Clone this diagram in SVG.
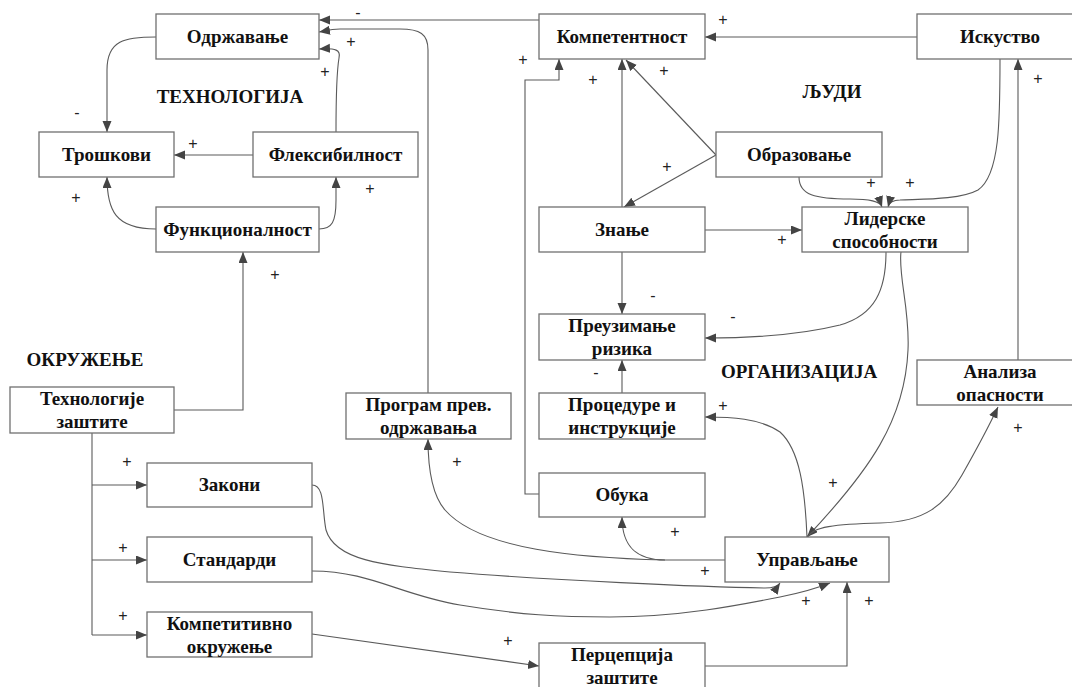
<svg xmlns="http://www.w3.org/2000/svg" width="1072" height="687" viewBox="0 0 1072 687">
<defs>
<marker id="ah" markerUnits="userSpaceOnUse" markerWidth="12" markerHeight="10" refX="11" refY="4.5" orient="auto">
<path d="M0,0 L11,4.5 L0,9 z" fill="#444"/>
</marker>
<style>
.box{fill:#fff;stroke:#707070;stroke-width:1.3}
.t{font-family:"Liberation Serif","Times New Roman",serif;font-weight:bold;font-size:19px;fill:#111;text-anchor:middle}
.sec{font-family:"Liberation Serif","Times New Roman",serif;font-weight:bold;font-size:19px;fill:#111;text-anchor:middle}
.c path{fill:none;stroke:#5a5a5a;stroke-width:1.1}
.c .a{marker-end:url(#ah)}
.l{font-family:"Liberation Sans",Arial,sans-serif;font-size:16px;fill:#222;text-anchor:middle}
</style>
</defs>
<rect width="1072" height="687" fill="#fff"/>

<g id="connectors" class="c">
<path class="a" d="M539,20 H319"/>
<path class="a" d="M428,393 V50 C428,34 420,29 400,29 L340,29 C330,29 325,31 319,32"/>
<path class="a" d="M336,132 C336,100 337,70 339,58 C341,50 336,48 319,49"/>
<path class="a" d="M156,37 C125,37 107,40 107,70 V132"/>
<path class="a" d="M253,155 H174"/>
<path class="a" d="M156,229 C115,229 107,210 107,177"/>
<path class="a" d="M319,229 C332,229 336,222 336,200 V177"/>
<path class="a" d="M174,410 H243 V252"/>
<path d="M92,433 V635"/>
<path class="a" d="M92,485 H147"/>
<path class="a" d="M92,560 H147"/>
<path class="a" d="M92,635 H147"/>
<path class="a" d="M539,494 H525 V80 H559 V59"/>
<path class="a" d="M622,207 V59"/>
<path class="a" d="M716,155 L626,60"/>
<path class="a" d="M716,155 L624,207"/>
<path class="a" d="M917,37 H705"/>
<path class="a" d="M1000,59 C1000,120 1000,175 978,190 C960,200 920,199 900,200 C893,200 889,203 888,207"/>
<path class="a" d="M799,177 C799,195 815,199 850,199 C870,199 880,201 882,207"/>
<path class="a" d="M705,230 H802"/>
<path class="a" d="M622,252 V314"/>
<path class="a" d="M886,252 C886,290 875,315 840,325 C800,335 750,338 705,338"/>
<path class="a" d="M622,393 V360"/>
<path class="a" d="M807,537 C805,490 800,450 780,432 C760,418 730,417 705,417"/>
<path class="a" d="M901,252 C898,275 910,310 908,350 C905,420 870,470 807,537"/>
<path class="a" d="M808,537 C812,527 835,524 880,523 C925,522 945,505 962,475 C975,452 988,428 998,407"/>
<path class="a" d="M1018,360 V59"/>
<path class="a" d="M725,560 H665 C640,560 622,550 622,517"/>
<path class="a" d="M665,560 C580,558 480,550 445,510 C432,495 428,470 428,439"/>
<path class="a" d="M312,485 C325,485 322,510 326,530 C335,560 380,565 450,572 C550,580 700,587 765,588 C775,588 778,586 780,583"/>
<path class="a" d="M312,571 C370,571 400,595 460,605 C520,615 560,617 610,617 C680,617 740,605 780,597 C805,592 820,587 830,583"/>
<path class="a" d="M312,634 L539,666"/>
<path class="a" d="M705,666 H847 V582"/>
</g>

<g id="odrzavanje"><rect class="box" x="156" y="14" width="163" height="45"/><text class="t" x="237.5" y="43">Одржавање</text></g>
<g id="troskovi"><rect class="box" x="39" y="132" width="135" height="45"/><text class="t" x="106.5" y="161">Трошкови</text></g>
<g id="fleksibilnost"><rect class="box" x="253" y="132" width="165" height="45"/><text class="t" x="335.5" y="161">Флексибилност</text></g>
<g id="funkcionalnost"><rect class="box" x="156" y="207" width="163" height="45"/><text class="t" x="237.5" y="236">Функционалност</text></g>
<g id="kompetentnost"><rect class="box" x="539" y="14" width="166" height="45"/><text class="t" x="622" y="43">Компетентност</text></g>
<g id="iskustvo"><rect class="box" x="917" y="14" width="166" height="45"/><text class="t" x="1000" y="43">Искуство</text></g>
<g id="obrazovanje"><rect class="box" x="716" y="132" width="166" height="45"/><text class="t" x="799" y="161">Образовање</text></g>
<g id="znanje"><rect class="box" x="539" y="207" width="166" height="45"/><text class="t" x="622" y="236">Знање</text></g>
<g id="liderske"><rect class="box" x="802" y="207" width="166" height="45"/><text class="t" x="885" y="225">Лидерске</text><text class="t" x="885" y="248">способности</text></g>
<g id="preuzimanje"><rect class="box" x="539" y="314" width="166" height="46"/><text class="t" x="622" y="332">Преузимање</text><text class="t" x="622" y="355">ризика</text></g>
<g id="procedure"><rect class="box" x="539" y="393" width="166" height="46"/><text class="t" x="622" y="411">Процедуре и</text><text class="t" x="622" y="434">инструкције</text></g>
<g id="obuka"><rect class="box" x="539" y="473" width="166" height="44"/><text class="t" x="622" y="501">Обука</text></g>
<g id="program"><rect class="box" x="346" y="393" width="165" height="46"/><text class="t" x="428.5" y="411">Програм прев.</text><text class="t" x="428.5" y="434">одржавања</text></g>
<g id="analiza"><rect class="box" x="917" y="360" width="166" height="45"/><text class="t" x="1000" y="378">Анализа</text><text class="t" x="1000" y="401">опасности</text></g>
<g id="tehnologije"><rect class="box" x="10" y="387" width="164" height="46"/><text class="t" x="92" y="405">Технологије</text><text class="t" x="92" y="428">заштите</text></g>
<g id="zakoni"><rect class="box" x="147" y="463" width="165" height="44"/><text class="t" x="229.5" y="491">Закони</text></g>
<g id="standardi"><rect class="box" x="147" y="537" width="165" height="45"/><text class="t" x="229.5" y="566">Стандарди</text></g>
<g id="kompetitivno"><rect class="box" x="147" y="612" width="165" height="45"/><text class="t" x="229.5" y="630">Компетитивно</text><text class="t" x="229.5" y="653">окружење</text></g>
<g id="upravljanje"><rect class="box" x="725" y="537" width="164" height="45"/><text class="t" x="807" y="566">Управљање</text></g>
<g id="percepcija"><rect class="box" x="539" y="643" width="166" height="46"/><text class="t" x="622" y="661">Перцепција</text><text class="t" x="622" y="684">заштите</text></g>

<g id="sections">
<text class="sec" x="230" y="103">ТЕХНОЛОГИЈА</text>
<text class="sec" x="832" y="98">ЉУДИ</text>
<text class="sec" x="85" y="366">ОКРУЖЕЊЕ</text>
<text class="sec" x="799" y="378">ОРГАНИЗАЦИЈА</text>
</g>

<g id="labels" class="l">
<text x="358" y="18">-</text>
<text x="351" y="47">+</text>
<text x="325" y="77">+</text>
<text x="77" y="118">-</text>
<text x="193" y="149">+</text>
<text x="76" y="203">+</text>
<text x="370" y="194">+</text>
<text x="275" y="280">+</text>
<text x="127" y="467">+</text>
<text x="123" y="553">+</text>
<text x="123" y="621">+</text>
<text x="523" y="65">+</text>
<text x="593" y="85">+</text>
<text x="664" y="76">+</text>
<text x="667" y="172">+</text>
<text x="723" y="25">+</text>
<text x="871" y="188">+</text>
<text x="910" y="188">+</text>
<text x="782" y="245">+</text>
<text x="653" y="301">-</text>
<text x="733" y="322">-</text>
<text x="596" y="378">-</text>
<text x="723" y="411">+</text>
<text x="833" y="488">+</text>
<text x="1018" y="433">+</text>
<text x="1038" y="84">+</text>
<text x="675" y="537">+</text>
<text x="457" y="467">+</text>
<text x="705" y="576">+</text>
<text x="806" y="606">+</text>
<text x="508" y="646">+</text>
<text x="869" y="606">+</text>
</g>
</svg>
